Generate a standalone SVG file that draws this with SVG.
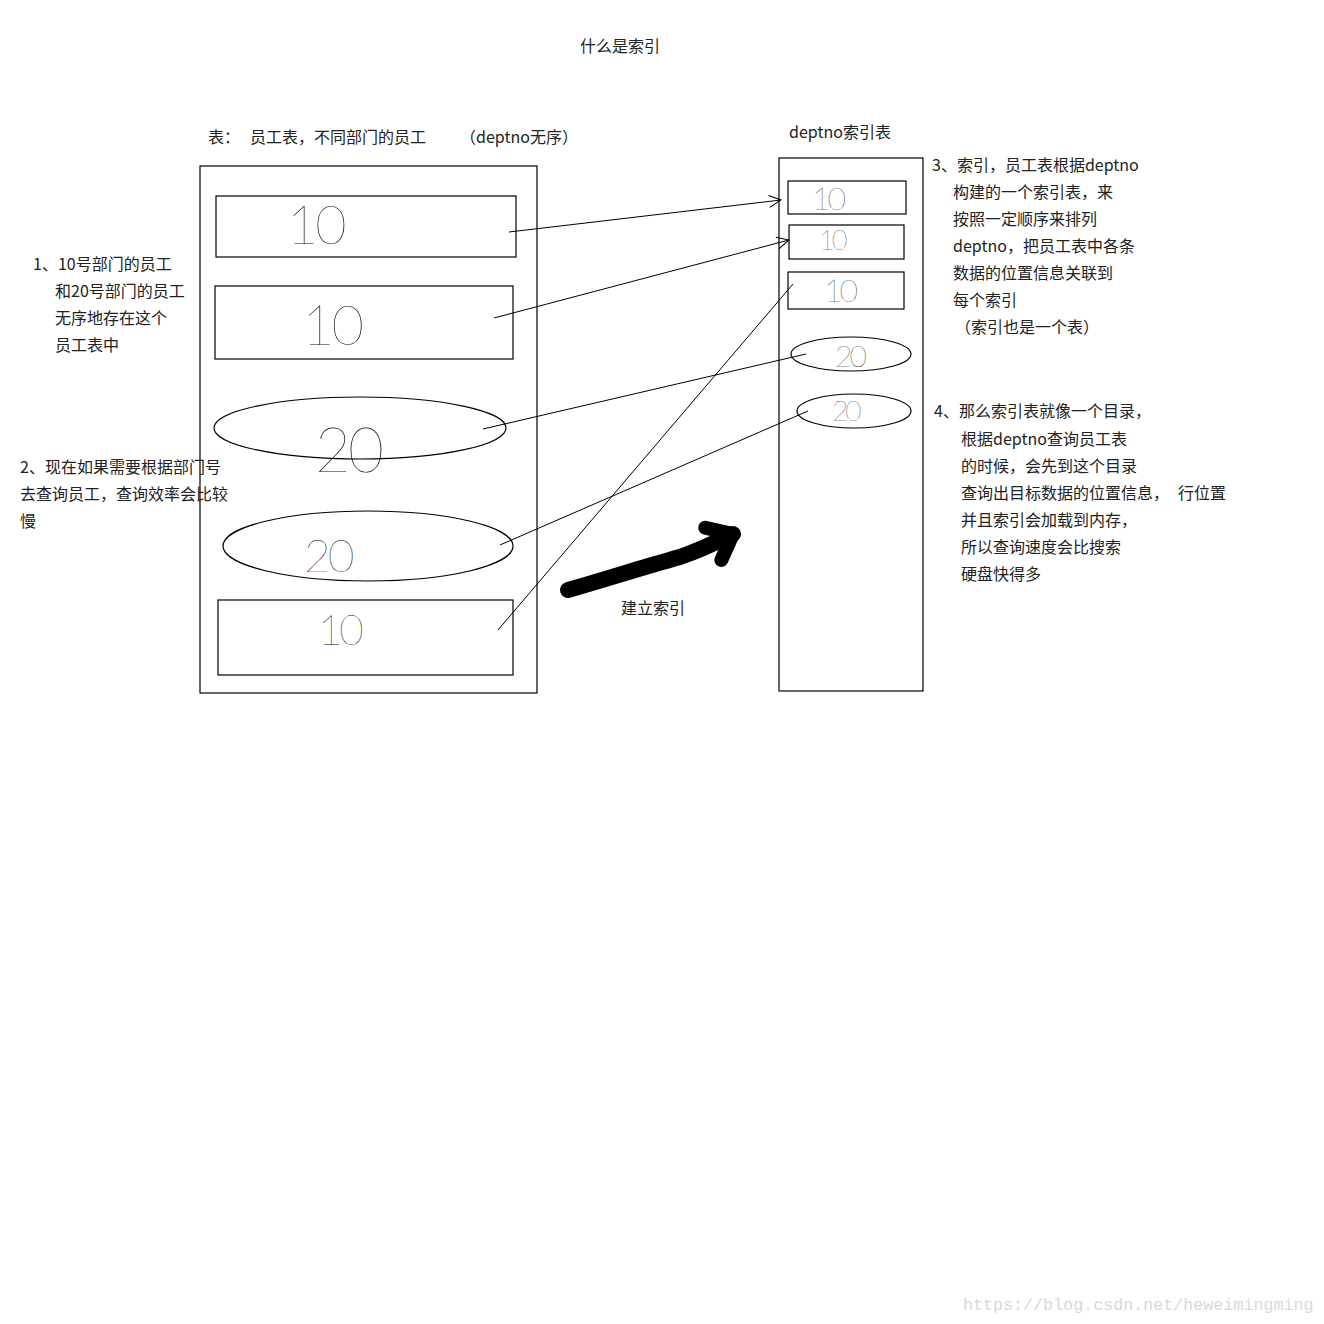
<svg xmlns="http://www.w3.org/2000/svg" width="1324" height="1324" viewBox="0 0 1324 1324">
<defs>
<marker id="open" markerUnits="userSpaceOnUse" markerWidth="16" markerHeight="16" viewBox="0 0 16 16" refX="14" refY="8" orient="auto">
<path d="M2,2 L14,8 L2,14" fill="none" stroke="#000" stroke-width="1"/>
</marker>
<marker id="big" markerUnits="userSpaceOnUse" markerWidth="60" markerHeight="60" viewBox="0 0 60 60" refX="44" refY="30" orient="auto">
<path d="M22,12 L44,30 L22,48" fill="none" stroke="#000" stroke-width="14" stroke-linecap="round" stroke-linejoin="round"/>
</marker>
</defs>
<style>
.t{font-family:"Noto Sans CJK SC","Liberation Sans",sans-serif;font-size:16px;fill:#222}
.box{fill:none;stroke:#000;stroke-width:1.2}
.hw{font-family:Lato,"DejaVu Sans",sans-serif;font-weight:100;fill:#000;letter-spacing:-3px}
.c{fill:none;stroke:#000;stroke-width:1}
</style>
<rect width="1324" height="1324" fill="#fff"/>

<text class="t" x="580" y="52">什么是索引</text>
<text class="t" x="208" y="143">表：</text>
<text class="t" x="250" y="143">员工表，不同部门的员工</text>
<text class="t" x="460" y="143">（deptno无序）</text>
<text class="t" x="789" y="138">deptno索引表</text>

<g id="emp-table">
<rect class="box" x="200" y="166" width="337" height="527"/>
</g>
<g id="emp1"><rect class="box" x="216" y="196" width="300" height="61"/><text class="hw" x="287" y="244" font-size="54">10</text></g>
<g id="emp2"><rect class="box" x="215" y="286" width="298" height="73"/><text class="hw" x="302" y="345" font-size="56">10</text></g>
<g id="emp3"><ellipse class="box" cx="360" cy="428" rx="146" ry="31"/><text class="hw" x="315" y="472" font-size="62">20</text></g>
<g id="emp4"><ellipse class="box" cx="368" cy="546" rx="145" ry="35"/><text class="hw" x="304" y="572" font-size="46">20</text></g>
<g id="emp5"><rect class="box" x="218" y="600" width="295" height="75"/><text class="hw" x="318" y="645" font-size="42">10</text></g>

<g id="idx-table">
<rect class="box" x="779" y="158" width="144" height="533"/>
</g>
<g id="idx1"><rect class="box" x="788" y="181" width="118" height="33"/><text class="hw" x="812" y="210" font-size="32">10</text></g>
<g id="idx2"><rect class="box" x="789" y="225" width="115" height="34"/><text class="hw" x="819" y="250" font-size="27">10</text></g>
<g id="idx3"><rect class="box" x="788" y="272" width="116" height="37"/><text class="hw" x="824" y="302" font-size="32">10</text></g>
<g id="idx4"><ellipse class="box" cx="851" cy="354" rx="60" ry="17"/><text class="hw" x="835" y="367" font-size="30">20</text></g>
<g id="idx5"><ellipse class="box" cx="854" cy="411" rx="57" ry="17"/><text class="hw" x="832" y="421" font-size="28">20</text></g>

<g id="connectors">
<line class="c" x1="509" y1="232" x2="781" y2="200" marker-end="url(#open)"/>
<line class="c" x1="494" y1="318" x2="789" y2="240" marker-end="url(#open)"/>
<line class="c" x1="498" y1="630" x2="793" y2="284"/>
<line class="c" x1="483" y1="429" x2="806" y2="354"/>
<line class="c" x1="500" y1="545" x2="808" y2="411"/>
<path d="M568,590 C610,578 640,568 680,557 C700,550 715,543 733,534" fill="none" stroke="#000" stroke-width="16" stroke-linecap="round" marker-end="url(#big)"/>
</g>
<text class="t" x="621" y="614">建立索引</text>

<g id="note1">
<text class="t" x="33" y="270">1、10号部门的员工</text>
<text class="t" x="55" y="297">和20号部门的员工</text>
<text class="t" x="55" y="324">无序地存在这个</text>
<text class="t" x="55" y="351">员工表中</text>
</g>
<g id="note2">
<text class="t" x="20" y="473">2、现在如果需要根据部门号</text>
<text class="t" x="20" y="500">去查询员工，查询效率会比较</text>
<text class="t" x="20" y="527">慢</text>
</g>
<g id="note3">
<text class="t" x="932" y="171">3、索引，员工表根据deptno</text>
<text class="t" x="953" y="198">构建的一个索引表，来</text>
<text class="t" x="953" y="225">按照一定顺序来排列</text>
<text class="t" x="953" y="252">deptno，把员工表中各条</text>
<text class="t" x="953" y="279">数据的位置信息关联到</text>
<text class="t" x="953" y="306">每个索引</text>
<text class="t" x="955" y="333">（索引也是一个表）</text>
</g>
<g id="note4">
<text class="t" x="934" y="417">4、那么索引表就像一个目录，</text>
<text class="t" x="961" y="445">根据deptno查询员工表</text>
<text class="t" x="961" y="472">的时候，会先到这个目录</text>
<text class="t" x="961" y="499">查询出目标数据的位置信息，</text>
<text class="t" x="1178" y="499">行位置</text>
<text class="t" x="961" y="526">并且索引会加载到内存，</text>
<text class="t" x="961" y="553">所以查询速度会比搜索</text>
<text class="t" x="961" y="580">硬盘快得多</text>
</g>
<text x="963" y="1310" font-family="Liberation Mono,monospace" font-size="16.7" fill="#d8d8d8">https://blog.csdn.net/heweimingming</text>
</svg>
